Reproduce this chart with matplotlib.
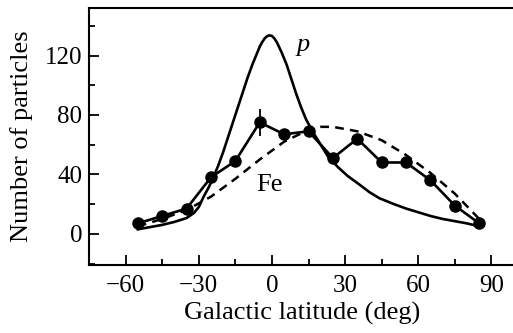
"""Angular distribution of particles versus galactic latitude."""

import matplotlib

matplotlib.use("Agg")
import matplotlib.pyplot as plt
from matplotlib.ticker import MultipleLocator

# measured Fe points
lat_obs = [-55, -45, -35, -25, -15, -5, 5, 15, 25, 35, 45, 55, 65, 75, 85]
n_obs = [7, 12, 17, 38, 49, 75, 67, 69, 51, 64, 48, 48, 36, 19, 7]
err_lat = [-5]
err_n = [75]
err_size = [9]

# model curve for protons (solid)
lat_p = [-55, -50, -45, -40, -35, -32, -30, -28, -26, -24, -22, -20, -18,
         -16, -14, -12, -10, -8, -6, -5, -4, -3, -2, -1, 0, 1, 2, 4, 6, 8,
         10, 12, 14, 17, 20, 23, 27, 31, 36, 40, 44, 50, 55, 60, 65, 70, 75,
         80, 85]
n_p = [3, 4.5, 6, 8, 10.6, 14, 18, 25, 31, 38, 46, 55, 65, 75, 85, 95, 105,
       114, 122, 126, 129, 131.5, 133, 133.6, 133.2, 131.5, 129, 122, 114,
       104, 94, 85, 77, 68, 60, 52, 45, 39, 33, 28, 24, 20, 17, 14.5, 12,
       10, 8.5, 7, 5]

# model curve for Fe (dashed)
lat_fe = [-55, -45, -35, -25, -15, -5, 5, 15, 20, 25, 35, 45, 55, 65, 75, 85]
n_fe = [5, 10, 16, 25, 37, 50, 62, 70, 72, 72, 69, 63, 53, 41, 27, 10]

plt.rcParams.update(
    {
        "font.family": "Liberation Serif",
        "font.size": 18,
        "axes.linewidth": 1.5,
        "xtick.direction": "in",
        "ytick.direction": "in",
        "xtick.major.size": 7,
        "ytick.major.size": 7,
        "xtick.minor.size": 4,
        "ytick.minor.size": 4,
        "xtick.major.width": 1.3,
        "ytick.major.width": 1.3,
        "xtick.minor.width": 1.3,
        "ytick.minor.width": 1.3,
        "xtick.major.pad": 7,
        "ytick.major.pad": 5,
    }
)

fig = plt.figure(figsize=(5.13, 3.33), dpi=100)
ax = fig.add_axes([0.1735, 0.2042, 0.832, 0.7718])

ax.plot(lat_p, n_p, color="black", linewidth=1.9)
ax.plot(lat_fe, n_fe, color="black", linewidth=1.8, linestyle=(0, (3.5, 2.5)))
ax.plot(lat_obs, n_obs, color="black", linewidth=1.9, marker="o", markersize=8)
ax.errorbar(err_lat, err_n, yerr=err_size, fmt="none", ecolor="black",
            elinewidth=1.3, capsize=0)

ax.text(13, 127, "p", fontsize=19, style="italic", ha="center", va="center")
ax.text(-1, 33, "Fe", fontsize=19, ha="center", va="center")

ax.set_xlim(-75, 100)
ax.set_ylim(-21, 152)
ax.xaxis.set_major_locator(MultipleLocator(30))
ax.xaxis.set_minor_locator(MultipleLocator(15))
ax.yaxis.set_major_locator(MultipleLocator(40))
ax.yaxis.set_minor_locator(MultipleLocator(20))
ax.spines["right"].set_visible(False)

ax.set_xlabel("Galactic latitude (deg)", fontsize=19, labelpad=4)
ax.set_ylabel("Number of particles", fontsize=19, labelpad=8)

fig.savefig("out.png", dpi=100)
